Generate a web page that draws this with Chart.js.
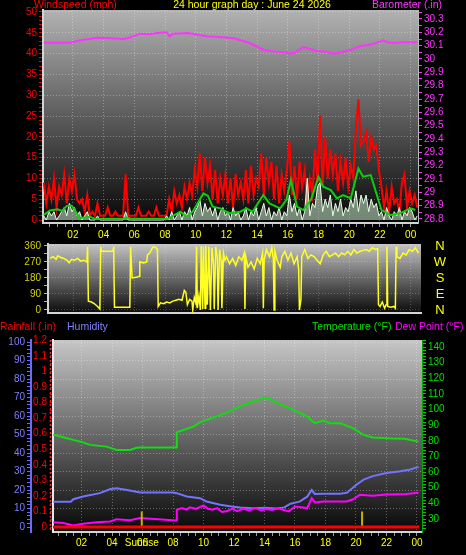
<!DOCTYPE html>
<html>
<head>
<meta charset="utf-8">
<title>24 hour graph</title>
<script src="https://cdn.jsdelivr.net/npm/chart.js@4.4.1/dist/chart.umd.min.js"></script>
<style>
    html, body { margin: 0; padding: 0; background: #000; }
    body { position: relative; width: 466px; height: 555px; overflow: hidden; }
    canvas { position: absolute; left: 0; }
    #windChart { top: 0; }
    #directionChart { top: 240px; }
    #climateChart { top: 316px; }
</style>
</head>
<body>
<canvas id="windChart" width="466" height="244"></canvas>
<canvas id="directionChart" width="466" height="76"></canvas>
<canvas id="climateChart" width="466" height="239"></canvas>
<script>
// ---- data ----
const hourLabels = ['02', '04', '06', '08', '10', '12', '14', '16', '18', '20', '22', '00'];

// wind, one sample every 10 minutes starting at 00:06
const windStartHour = 0.1;
const windStepHour = 1 / 6;
const windGust = [
    9, 4, 8, 5, 10, 3,    8, 6, 11, 4, 10, 7,   11, 5, 4, 5, 2, 6,    1, 2, 1, 4, 1, 1,
    1, 3, 1, 1, 2, 1,     1, 1, 11, 1, 1, 1,    1, 3, 1, 1, 1, 2,     1, 1, 3, 1, 1, 1,
    1, 5, 2, 7, 4, 6,     3, 8, 5, 9, 6, 12,    8, 16, 7, 15, 9, 13,  5, 12, 4, 10, 6, 11,
    4, 10, 3, 11, 6, 9,   5, 12, 4, 13, 6, 10,  8, 16, 6, 15, 9, 14,  5, 13, 4, 11, 7, 12,
    19, 6, 13, 5, 14, 8,  12, 4, 10, 6, 17, 9,  25, 8, 20, 10, 17, 11, 16, 7, 14, 9, 15, 8,
    13, 10, 22, 29, 18, 19, 21, 14, 20, 17, 18, 12, 8, 3, 7, 2, 8, 4, 5, 2, 9, 11, 3, 7,
    4, 6, 3
];
const windSpeed = [
    1, 0, 2, 1, 2, 0,  1, 2, 3, 1, 4, 2,  3, 1, 2, 0, 1, 2,  0, 0, 0, 1, 0, 0,
    0, 0, 0, 0, 0, 0,  0, 0, 2, 0, 0, 0,  0, 0, 0, 0, 0, 0,  0, 0, 0, 0, 0, 0,
    1, 0, 2, 0, 1, 2,  0, 2, 1, 3, 0, 2,  3, 5, 1, 4, 2, 3,  1, 3, 0, 2, 3, 1,
    2, 0, 3, 1, 2, 0,  1, 3, 0, 2, 1, 3,  0, 2, 4, 1, 3, 0,  2, 1, 3, 0, 2, 1,
    6, 2, 4, 1, 3, 0,  2, 10, 1, 4, 3, 8, 9, 2, 5, 3, 6, 1,  4, 2, 5, 1, 3, 2,
    5, 3, 7, 2, 6, 4,  6, 2, 5, 3, 4, 1,  2, 0, 3, 1, 0, 2,  1, 3, 0, 2, 1, 3,
    2, 0, 1
];
const windAvgHours = [0.1, 0.5, 1.0, 1.3, 1.6, 1.9, 2.1, 2.4, 2.8, 3.1, 3.4, 5.3, 5.5, 5.8, 8.2, 8.6, 9.0, 9.4, 9.8,
    10.2, 10.5, 10.8, 11.1, 11.6, 12.2, 12.9, 13.3, 13.7, 14.4, 14.8, 15.5, 15.9, 16.2, 16.6, 17.0, 17.5, 18.0, 18.3,
    18.8, 19.2, 19.6, 20.1, 20.6, 20.9, 21.4, 21.7, 22.1, 22.7, 23.3, 24.0, 24.3];
const windAvg = [1.2, 2.3, 2.6, 2.2, 3.4, 3.5, 2.6, 0.5, 0.6, 0.8, 0.3, 0.3, 0.6, 0.3, 0.3, 1.2, 2.0, 0.8, 2.0,
    4.5, 6.4, 5.8, 3.2, 2.8, 1.6, 2.0, 2.8, 2.0, 6.0, 4.0, 2.8, 4.8, 9.6, 3.2, 2.4, 4.8, 10.4, 8.0,
    7.2, 5.2, 6.0, 5.2, 12.4, 10.4, 10.8, 7.2, 2.4, 1.2, 1.6, 2.8, 2.4];

const baroHours = [0.1, 1.8, 2.5, 3.6, 4.5, 5.3, 5.6, 6.4, 7.0, 7.5, 8.1, 8.3, 8.5, 9.5, 10.7, 11.5, 12.5, 13.5,
    14.4, 15.2, 15.8, 16.2, 16.5, 17.0, 17.3, 17.9, 18.5, 19.0, 19.5, 20.1, 20.7, 21.5, 22.2, 22.5, 22.9, 23.5, 24.4];
const baroInches = [30.122, 30.122, 30.14, 30.16, 30.155, 30.15, 30.158, 30.19, 30.185, 30.195, 30.2, 30.17, 30.19,
    30.195, 30.17, 30.165, 30.155, 30.12, 30.07, 30.055, 30.05, 30.04, 30.05, 30.09, 30.08, 30.06, 30.055, 30.04,
    30.05, 30.07, 30.095, 30.11, 30.14, 30.125, 30.12, 30.125, 30.125];

// wind direction (degrees)
const dirHours = [0.5, 0.7, 0.9, 1.0, 1.2, 1.4, 1.6, 1.75, 1.9, 2.1, 2.3, 2.5, 2.7, 2.9, 2.95, 3.0, 3.2, 3.4, 3.6,
    3.75, 3.8, 3.85, 4.3, 4.6, 4.65, 4.7, 5.0, 5.5, 5.7, 5.75, 5.85, 6.2, 6.3, 6.35, 6.6, 6.8, 6.85, 7.0, 7.2, 7.4,
    7.5, 7.55, 7.7, 7.9, 8.1, 8.3, 8.5, 8.7, 8.9, 9.1, 9.25, 9.35, 9.45, 9.6, 9.75, 9.8, 9.9, 10.0, 10.05, 10.1, 10.2,
    10.3, 10.35, 10.45, 10.5, 10.6, 10.65, 10.75, 10.85, 10.95, 11.05, 11.15, 11.2, 11.3, 11.4, 11.45, 11.55, 11.65,
    11.7, 11.8, 11.9, 12.0, 12.2, 12.4, 12.6, 12.8, 13.0, 13.15, 13.2, 13.25, 13.4, 13.6, 13.8, 14.0, 14.2, 14.35,
    14.4, 14.45, 14.6, 14.8, 14.95, 15.05, 15.1, 15.15, 15.3, 15.5, 15.6, 15.8, 16.0, 16.2, 16.4, 16.6, 16.7, 16.75,
    16.85, 16.9, 17.1, 17.3, 17.5, 17.7, 17.9, 18.1, 18.3, 18.5, 18.7, 18.9, 19.1, 19.3, 19.5, 19.7, 19.9, 20.1,
    20.3, 20.5, 20.7, 20.9, 21.1, 21.3, 21.5, 21.7, 21.85, 21.9, 22.0, 22.15, 22.3, 22.4, 22.45, 22.5, 22.7, 22.9,
    23.0, 23.05, 23.1, 23.3, 23.5, 23.7, 23.9, 24.1, 24.3, 24.5];
const dirDegrees = [290, 300, 285, 305, 295, 290, 280, 265, 285, 280, 290, 275, 280, 270, 355, 50, 45, 35, 20,
    5, 355, 330, 330, 330, 355, 15, 15, 15, 15, 355, 180, 185, 190, 270, 265, 270, 310, 320, 355, 350,
    340, 20, 40, 35, 45, 40, 50, 55, 60, 55, 110, 100, 30, 60, 50, 0, 70, 40, 355, 10, 80,
    0, 360, 5, 355, 10, 360, 30, 355, 0, 350, 260, 5, 355, 300, 0, 340, 280,
    10, 320, 280, 300, 260, 290, 250, 300, 280, 320, 5, 300, 240, 270, 230, 290, 260, 320,
    10, 280, 340, 300, 350, 290, 0, 330, 280, 240, 300, 330, 280, 320, 260, 300, 230, 0,
    60, 300, 340, 290, 310, 300, 280, 260, 310, 330, 300, 310, 320, 300, 320, 310, 330, 310,
    340, 320, 330, 335, 340, 330, 350, 340, 345, 30, 20, 45, 10, 30, 355, 20, 15, 20,
    10, 355, 300, 290, 320, 310, 340, 330, 350, 320];
const dirTicks = [0, 90, 180, 270, 360];
const compassLabels = ['N', 'E', 'S', 'W', 'N'];

// rainfall, humidity, temperature, dew point
const rainHours = [0.13, 24.15];
const rainfall = [0, 0];
const humidityHours = [0.15, 1.3, 1.46, 2.1, 3.2, 3.9, 4.3, 4.9, 5.5, 5.84, 8.0, 8.24, 8.9, 9.77, 10.2, 11.1, 11.95,
    12.4, 13.2, 14.0, 14.8, 15.3, 15.7, 16.3, 16.8, 17.1, 17.3, 17.86, 18.95, 19.4, 20.05, 20.5, 21.1, 22.0, 22.9,
    23.5, 24.1];
const humidity = [13.7, 13.7, 15, 16.5, 18.3, 20.5, 21, 20.1, 19.2, 18.7, 18.7, 18.3, 16.5, 15.6, 13.8, 12, 11,
    10.5, 10.2, 10.4, 10, 10.6, 12.6, 13.7, 16.4, 20, 17.9, 18, 18, 18.5, 23, 25.6, 27.5, 29.2, 30.2,
    31, 32.5];
const tempHours = [0.15, 0.8, 1.46, 2.0, 2.56, 3.65, 4.3, 5.18, 5.6, 5.84, 8.2, 8.25, 9.3, 9.8, 10.2, 11.5, 12.4,
    13.05, 13.9, 14.36, 14.8, 15.9, 16.8, 17.3, 17.86, 18.3, 18.95, 19.8, 20.5, 21.1, 22.45, 23.2, 24.1];
const temperature = [84, 82.3, 80.6, 79.3, 77.4, 76.3, 74.2, 74.2, 75.5, 75.7, 75.7, 85.5, 89, 92, 93.4, 97.9, 102,
    104.5, 107.3, 107, 104.3, 99.8, 95.5, 91.3, 93, 91.3, 91.3, 88.1, 83.8, 82.1, 81.5, 81.3, 79.5];
const dewHours = [0.15, 0.8, 1.46, 2.1, 3.0, 3.87, 4.3, 5.18, 5.84, 8.2, 8.25, 8.6, 8.9, 9.1, 9.5, 10.0, 10.3, 10.6,
    10.9, 11.2, 11.5, 11.9, 12.2, 12.6, 13.0, 13.4, 13.8, 14.1, 14.5, 14.9, 15.2, 15.6, 16.0, 16.4, 16.8, 17.1, 17.3,
    17.86, 19.4, 19.8, 20.26, 21.1, 22.0, 23.3, 24.1];
const dewPoint = [28, 27.4, 25.8, 27, 28, 28.4, 29.9, 29.2, 30.6, 29, 35.9, 37, 36, 37.5, 36.5, 38.7, 36.5, 35.9,
    37, 34.5, 35, 36.5, 35, 36.5, 35.5, 37, 35.5, 36.4, 35.8, 36.8, 35.9, 34.9, 38, 37.5, 37, 43.3, 40.6,
    41.2, 41.2, 42.6, 45.5, 44.9, 45.6, 46, 46.8];

const sunHours = [5.95, 20.4];
const sunLabels = ['Sunrise', ''];
const sunMarkTop = 0.1; // marker height, rainfall units

// ---- helpers ----
Chart.defaults.font.family = '"Liberation Sans", Arial, Helvetica, sans-serif';
Chart.defaults.font.size = 10;
Chart.defaults.animation = false;
Chart.defaults.plugins.legend.display = false;
Chart.defaults.plugins.tooltip.enabled = false;
Chart.defaults.elements.point.radius = 0;
Chart.defaults.elements.line.tension = 0;

const FONT = '"Liberation Sans", Arial, Helvetica, sans-serif';
const GRID = 'rgba(255,255,255,0.32)';

function pairs(xs, ys) {
    return xs.map((x, i) => ({ x: x, y: ys[i] }));
}

function windSeries(values) {
    return values.map((v, i) => ({ x: windStartHour + i * windStepHour, y: v }));
}

function isMultiple(v, step) {
    const r = Math.round(v / step);
    return Math.abs(v - r * step) < 1e-6;
}

function stepLabel(step) {
    return v => isMultiple(v, step) ? String(+(Math.round(v / step) * step).toFixed(2)) : '';
}

function majorGrid(step, color, skipZero) {
    return ctx => {
        if (!ctx.tick) return 'transparent';
        const v = ctx.tick.value;
        if (skipZero && Math.abs(v) < 1e-6) return 'transparent';
        return isMultiple(v, step) ? color : 'transparent';
    };
}

// tick marks from lo to hi, every step
function stepTicks(lo, hi, step) {
    return scale => {
        const ticks = [];
        for (let i = 0; lo + i * step <= hi + 1e-9; i++) {
            ticks.push({ value: +(lo + i * step).toFixed(4) });
        }
        scale.ticks = ticks;
    };
}

function halfHourTicks(scale) {
    const ticks = [];
    for (let h = Math.ceil(scale.min * 2) / 2; h <= scale.max; h += 0.5) ticks.push({ value: h });
    scale.ticks = ticks;
}

function hourLabel(v) {
    if (!Number.isInteger(v) || v % 2 !== 0 || v <= 0) return '';
    return hourLabels[v / 2 - 1] || '';
}

function fixWidth(w) {
    return scale => { scale.width = w; scale.paddingTop = 0; scale.paddingBottom = 0; };
}

function fixHeight(h) {
    return scale => { scale.height = h; scale.paddingLeft = 0; scale.paddingRight = 0; };
}

// gradient behind the plot area, optional dashed rule left of it
const plotBackground = {
    id: 'plotBackground',
    beforeDraw(chart, args, opts) {
        const { ctx, chartArea: a } = chart;
        const g = ctx.createLinearGradient(0, a.top, 0, a.bottom);
        g.addColorStop(0, opts.top);
        g.addColorStop(1, opts.bottom);
        ctx.save();
        ctx.fillStyle = g;
        ctx.fillRect(a.left, a.top, a.right - a.left, a.bottom - a.top);
        ctx.restore();
    },
    afterDraw(chart, args, opts) {
        if (!opts.leftRule) return;
        const { ctx, chartArea: a } = chart;
        ctx.save();
        ctx.strokeStyle = opts.leftRule;
        ctx.lineWidth = 1.5;
        ctx.setLineDash([2, 2]);
        ctx.beginPath();
        ctx.moveTo(a.left - 2.5, a.top);
        ctx.lineTo(a.left - 2.5, a.bottom);
        ctx.stroke();
        ctx.restore();
    }
};

// free text (titles, legends)
const captions = {
    id: 'captions',
    afterDraw(chart, args, opts) {
        const ctx = chart.ctx;
        ctx.save();
        ctx.textBaseline = 'middle';
        (opts.items || []).forEach(t => {
            ctx.font = (t.size || 10.5) + 'px ' + FONT;
            ctx.fillStyle = t.color;
            ctx.textAlign = t.align || 'left';
            ctx.fillText(t.text, t.x, t.y);
        });
        ctx.restore();
    }
};

// ---- windspeed + barometer ----
new Chart(document.getElementById('windChart'), {
    type: 'line',
    data: {
        datasets: [
            {
                label: 'Barometer',
                data: pairs(baroHours, baroInches),
                yAxisID: 'baro',
                borderColor: '#ff33ff',
                borderWidth: 2
            },
            {
                label: 'Average',
                data: pairs(windAvgHours, windAvg),
                yAxisID: 'wind',
                borderColor: '#11cc11',
                borderWidth: 2
            },
            {
                label: 'Speed',
                data: windSeries(windSpeed),
                yAxisID: 'wind',
                borderColor: '#e8ffe8',
                backgroundColor: 'rgba(205,240,205,0.55)',
                fill: 'origin',
                borderWidth: 1
            },
            {
                label: 'Gust',
                data: windSeries(windGust),
                yAxisID: 'wind',
                borderColor: '#ff0000',
                borderWidth: 2
            }
        ]
    },
    options: {
        responsive: false,
        layout: { padding: { top: 10 } },
        plugins: {
            plotBackground: { top: '#b2b2b2', bottom: '#060606' },
            captions: {
                items: [
                    { text: 'Windspeed (mph)', color: '#ff0000', x: 34, y: 5 },
                    { text: '24 hour graph day : June 24 2026', color: '#ffff00', x: 252, y: 5, align: 'center' },
                    { text: 'Barometer (.in)', color: '#ff33ff', x: 372, y: 5 }
                ]
            }
        },
        scales: {
            x: {
                type: 'linear',
                min: 0.05,
                max: 24.48,
                afterBuildTicks: halfHourTicks,
                afterFit: fixHeight(21),
                ticks: { color: '#ffff00', autoSkip: false, maxRotation: 0, padding: 2, callback: hourLabel },
                grid: { color: majorGrid(2, GRID), tickColor: '#9a9a9a', tickLength: 4 },
                border: { color: '#d4d4d4', width: 2, dash: [1, 2] }
            },
            wind: {
                position: 'left',
                min: -0.72,
                max: 50.48,
                afterBuildTicks: stepTicks(0, 50, 1),
                afterFit: fixWidth(43),
                ticks: { autoSkip: false, color: '#ff0000', padding: 2, callback: stepLabel(5) },
                grid: { color: majorGrid(5, GRID, true), tickColor: '#dd0000', tickLength: 4 },
                border: { color: '#d4d4d4', width: 2, dash: [1, 2] }
            },
            baro: {
                position: 'right',
                min: 28.77,
                max: 30.3675,
                afterBuildTicks: stepTicks(28.8, 30.35, 0.05),
                afterFit: fixWidth(48),
                ticks: { autoSkip: false, color: '#ff33ff', padding: 2, callback: stepLabel(0.1) },
                grid: { drawOnChartArea: false, tickColor: '#ff33ff', tickLength: 4 },
                border: { color: '#bdbdbd', width: 1 }
            }
        }
    },
    plugins: [plotBackground, captions]
});

// ---- wind direction ----
const compass = {
    id: 'compass',
    afterDraw(chart) {
        const { ctx, scales } = chart;
        ctx.save();
        ctx.font = '13px ' + FONT;
        ctx.fillStyle = '#ffff00';
        ctx.textAlign = 'center';
        ctx.textBaseline = 'middle';
        dirTicks.forEach((d, i) => {
            ctx.fillText(compassLabels[i], 440, scales.y.getPixelForValue(d));
        });
        ctx.restore();
    }
};

new Chart(document.getElementById('directionChart'), {
    type: 'line',
    data: {
        datasets: [{
            label: 'Direction',
            data: pairs(dirHours, dirDegrees),
            borderColor: '#ffff22',
            borderWidth: 1.5
        }]
    },
    options: {
        responsive: false,
        layout: { padding: { top: 4, right: 45, bottom: 1 } },
        plugins: {
            plotBackground: { top: '#c4c4c4', bottom: '#0a0a0a' }
        },
        scales: {
            x: {
                type: 'linear',
                min: 0.37,
                max: 24.67,
                afterBuildTicks: halfHourTicks,
                afterFit: fixHeight(2),
                ticks: { display: false },
                grid: { color: majorGrid(2, 'rgba(255,255,255,0.22)'), drawTicks: false },
                border: { color: '#d4d4d4', width: 2, dash: [1, 2] }
            },
            y: {
                min: -16.9,
                max: 371,
                afterBuildTicks: stepTicks(0, 360, 45),
                afterFit: fixWidth(48),
                ticks: {
                    autoSkip: false, color: '#d2d200', padding: 3,
                    callback: v => dirTicks.includes(v) ? String(v) : ''
                },
                grid: { color: majorGrid(90, 'rgba(255,255,255,0.25)'), tickColor: '#c8c800', tickLength: 4 },
                border: { color: '#d4d4d4', width: 2, dash: [1, 2] }
            }
        }
    },
    plugins: [plotBackground, compass]
});

// ---- rainfall, humidity, temperature, dew point ----
const sunMarkers = [];
sunHours.forEach(h => {
    sunMarkers.push({ x: h, y: 0 }, { x: h, y: sunMarkTop }, { x: h, y: null });
});

const sunText = {
    id: 'sunText',
    afterDraw(chart) {
        const { ctx, scales } = chart;
        ctx.save();
        ctx.font = '10px ' + FONT;
        ctx.fillStyle = '#ffff00';
        ctx.textAlign = 'center';
        ctx.textBaseline = 'middle';
        sunHours.forEach((h, i) => {
            if (sunLabels[i]) ctx.fillText(sunLabels[i], scales.x.getPixelForValue(h), scales.x.top + 11);
        });
        ctx.restore();
    }
};

new Chart(document.getElementById('climateChart'), {
    type: 'line',
    data: {
        datasets: [
            {
                label: 'Rainfall',
                data: pairs(rainHours, rainfall),
                yAxisID: 'rain',
                borderColor: '#ff0000',
                borderWidth: 3
            },
            {
                label: 'Sun',
                data: sunMarkers,
                yAxisID: 'rain',
                borderColor: '#c8b000',
                borderWidth: 2,
                spanGaps: false
            },
            {
                label: 'Dew Point',
                data: pairs(dewHours, dewPoint),
                yAxisID: 'temp',
                borderColor: '#ff00ff',
                borderWidth: 2
            },
            {
                label: 'Humidity',
                data: pairs(humidityHours, humidity),
                yAxisID: 'hum',
                borderColor: '#7373ff',
                borderWidth: 2
            },
            {
                label: 'Temperature',
                data: pairs(tempHours, temperature),
                yAxisID: 'temp',
                borderColor: '#11dd11',
                borderWidth: 2
            }
        ]
    },
    options: {
        responsive: false,
        layout: { padding: { top: 24 } },
        plugins: {
            plotBackground: { top: '#c6c6c6', bottom: '#070707', leftRule: '#ff2020' },
            captions: {
                items: [
                    { text: 'Rainfall (.in)', color: '#ff0000', x: 0, y: 11 },
                    { text: 'Humidity', color: '#8080ff', x: 67, y: 11 },
                    { text: 'Temperature (°F)', color: '#00e000', x: 312, y: 11 },
                    { text: 'Dew Point (°F)', color: '#ff00ff', x: 395, y: 11 }
                ]
            }
        },
        scales: {
            x: {
                type: 'linear',
                min: 0.13,
                max: 24.33,
                afterBuildTicks: halfHourTicks,
                afterFit: fixHeight(23),
                ticks: { color: '#ffff00', autoSkip: false, maxRotation: 0, padding: 1, callback: hourLabel },
                grid: { color: majorGrid(2, GRID), tickColor: '#9a9a9a', tickLength: 4 },
                border: { color: '#d4d4d4', width: 2, dash: [1, 2] }
            },
            hum: {
                position: 'left',
                weight: 1,
                min: -2.7,
                max: 101.1,
                afterBuildTicks: stepTicks(0, 100, 2),
                afterFit: fixWidth(31),
                ticks: { autoSkip: false, color: '#7f7fff', padding: 2, callback: stepLabel(10) },
                grid: { color: majorGrid(10, GRID, true), tickColor: '#6a6aff', tickLength: 4 },
                border: { color: '#6a6aff', width: 2, dash: [1, 2] }
            },
            rain: {
                position: 'left',
                weight: 0,
                min: -0.032,
                max: 1.2025,
                afterBuildTicks: stepTicks(0, 1.2, 0.05),
                afterFit: fixWidth(22),
                ticks: { autoSkip: false, color: '#ff0000', padding: 3, callback: stepLabel(0.1) },
                grid: { drawOnChartArea: false, tickColor: '#ff0000', tickLength: 3 },
                border: { color: '#e8e8e8', width: 2 }
            },
            temp: {
                position: 'right',
                min: 21.69,
                max: 144.48,
                afterBuildTicks: stepTicks(24, 144, 2),
                afterFit: fixWidth(44),
                ticks: { autoSkip: false, color: '#00e000', padding: 2, callback: stepLabel(10) },
                grid: { drawOnChartArea: false, tickColor: '#00cc00', tickLength: 4 },
                border: { color: '#00aa00', width: 1 }
            }
        }
    },
    plugins: [plotBackground, captions, sunText]
});
</script>
</body>
</html>
